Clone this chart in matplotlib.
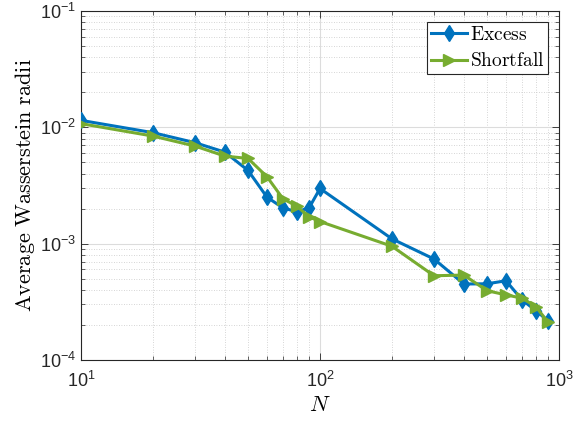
import matplotlib
matplotlib.use("Agg")
import matplotlib.pyplot as plt
from matplotlib.ticker import LogLocator, FuncFormatter, NullFormatter
from matplotlib.font_manager import FontProperties
import math

plt.rcParams['font.family'] = ['Liberation Sans', 'DejaVu Sans']
plt.rcParams['mathtext.fontset'] = 'custom'
plt.rcParams['mathtext.rm'] = 'Liberation Sans'
plt.rcParams['mathtext.it'] = 'Liberation Sans:italic'

N = [10, 20, 30, 40, 50, 60, 70, 80, 90, 100, 200, 300, 400, 500, 600, 700, 800, 900]
excess = [0.01148, 0.0090, 0.00738, 0.00612, 0.00426, 0.00251, 0.00203, 0.00188, 0.00203,
          0.00298, 0.00110, 0.000738, 0.000450, 0.000452, 0.00048, 0.000329, 0.000266, 0.000217]
shortfall = [0.01076, 0.00841, 0.0069, 0.00566, 0.0054, 0.00376, 0.00243, 0.0021, 0.0017,
             0.00155, 0.00095, 0.00053, 0.000537, 0.000394, 0.000363, 0.00034, 0.000288, 0.000211]
labels = ['Excess', 'Shortfall']

fig = plt.figure(figsize=(5.86, 4.24), dpi=100)
ax = fig.add_axes([81/586, 1-360/424, (559-81)/586, (360-11)/424])

ax.plot(N, excess, color='#0072BD', lw=2.2, marker='d', ms=8, label=r'$\mathrm{' + labels[0] + '}$', zorder=3)
ax.plot(N, shortfall, color='#77AC30', lw=2.2, marker='>', ms=8.5, label=r'$\mathrm{' + labels[1] + '}$', zorder=3)

ax.set_xscale('log')
ax.set_yscale('log')
ax.set_xlim(10, 1000)
ax.set_ylim(1e-4, 1e-1)

ax.xaxis.set_major_locator(LogLocator(base=10, numticks=10))
ax.yaxis.set_major_locator(LogLocator(base=10, numticks=10))
ax.xaxis.set_minor_locator(LogLocator(base=10, subs=range(2, 10), numticks=20))
ax.yaxis.set_minor_locator(LogLocator(base=10, subs=range(2, 10), numticks=20))
ax.xaxis.set_minor_formatter(NullFormatter())
ax.yaxis.set_minor_formatter(NullFormatter())

def fmt(v, pos):
    e = int(round(math.log10(v)))
    return r'$\mathrm{10^{%d}}$' % e

ax.xaxis.set_major_formatter(FuncFormatter(fmt))
ax.yaxis.set_major_formatter(FuncFormatter(fmt))

ax.tick_params(which='both', direction='in', top=True, right=True, colors='#262626', labelsize=13)
ax.tick_params(which='major', length=5, width=0.6)
ax.tick_params(which='minor', length=3, width=0.5)
ax.tick_params(axis='x', which='major', pad=8)

ax.grid(True, which='major', color='#dcdcdc', lw=0.8, ls='-')
ax.grid(True, which='minor', color='#c8c8c8', lw=0.6, ls=(0, (1, 2)))
ax.set_axisbelow(True)
for s in ax.spines.values():
    s.set_color('#262626')
    s.set_linewidth(0.8)

cm = FontProperties(size=16, math_fontfamily='cm')
ax.set_xlabel(r'$N$', fontproperties=cm, labelpad=3)
ax.set_ylabel(r'$\mathrm{Average\ Wasserstein\ radii}$', fontproperties=cm, labelpad=2)

leg = ax.legend(loc='upper right', prop=FontProperties(size=14, math_fontfamily='cm'),
                fancybox=False, edgecolor='#262626', framealpha=1, borderpad=0.2,
                handlelength=1.85, handletextpad=0.15, labelspacing=0.45, borderaxespad=0.55)
leg.get_frame().set_linewidth(0.8)

fig.savefig('out.png', dpi=100)
